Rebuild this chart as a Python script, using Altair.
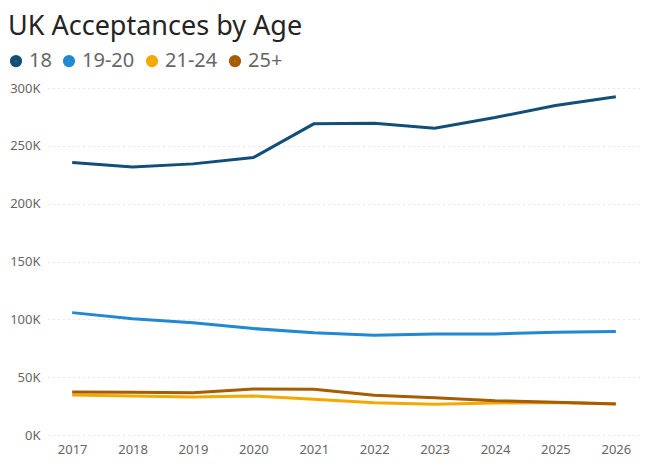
import altair as alt
import pandas as pd

years = ["2017", "2018", "2019", "2020", "2021", "2022", "2023", "2024", "2025", "2026"]
age_18 = [235500, 231800, 234400, 239900, 269000, 269600, 265300, 274500, 284900, 292400]
age_19_20 = [105800, 100600, 97100, 92000, 88500, 86200, 87400, 87400, 88800, 89400]
age_21_24 = [34600, 33800, 32900, 33700, 30900, 27900, 26500, 27700, 28000, 27100]
age_25p = [37200, 36900, 36600, 39800, 39500, 34300, 32300, 29700, 28300, 26800]

groups = ["18", "19-20", "21-24", "25+"]
colors = ["#124E78", "#2188D2", "#F5A800", "#A65C00"]

rows = []
for g, vals in zip(groups, [age_18, age_19_20, age_21_24, age_25p]):
    for y, v in zip(years, vals):
        rows.append({"Year": y, "Age": g, "Acceptances": v})
df = pd.DataFrame(rows)

FONT = "Segoe UI, Noto Sans, sans-serif"

chart = alt.Chart(df).mark_line(strokeWidth=3).encode(
    x=alt.X("Year:O", title=None, scale=alt.Scale(type="point", padding=0.4),
            axis=alt.Axis(labelAngle=0, domain=False, ticks=False, grid=False,
                          labelFontSize=13, labelColor="#666666", labelPadding=8, labelFont=FONT)),
    y=alt.Y("Acceptances:Q", title=None, scale=alt.Scale(domain=[0, 300000]),
            axis=alt.Axis(values=[0, 50000, 100000, 150000, 200000, 250000, 300000],
                          labelExpr="datum.value/1000 + 'K'", domain=False, ticks=False,
                          gridColor="#cfcfcf", gridDash=[1, 4], gridWidth=1,
                          labelFontSize=13, labelColor="#666666", labelPadding=8, labelFont=FONT)),
    color=alt.Color("Age:N", scale=alt.Scale(domain=groups, range=colors),
                    legend=alt.Legend(title=None, orient="none", direction="horizontal",
                                      legendX=-42, legendY=-37, symbolType="circle",
                                      symbolSize=33, symbolStrokeWidth=6.5,
                                      labelFontSize=20, labelColor="#666666",
                                      labelFont=FONT, columnPadding=1, symbolOffset=0,
                                      labelOffset=3)),
).properties(
    width=592,
    height=347,
    autosize=alt.AutoSizeParams(type="none"),
    padding={"left": 40, "top": 80, "right": 13, "bottom": 30},
    title=alt.Title("UK Acceptances by Age", anchor="start", frame="group", dx=-40,
                    fontSize=27, font=FONT, fontWeight="normal", color="#252423", offset=10),
).configure_view(stroke=None)

chart.save("out.html", embed_options={"renderer": "svg", "actions": False})
